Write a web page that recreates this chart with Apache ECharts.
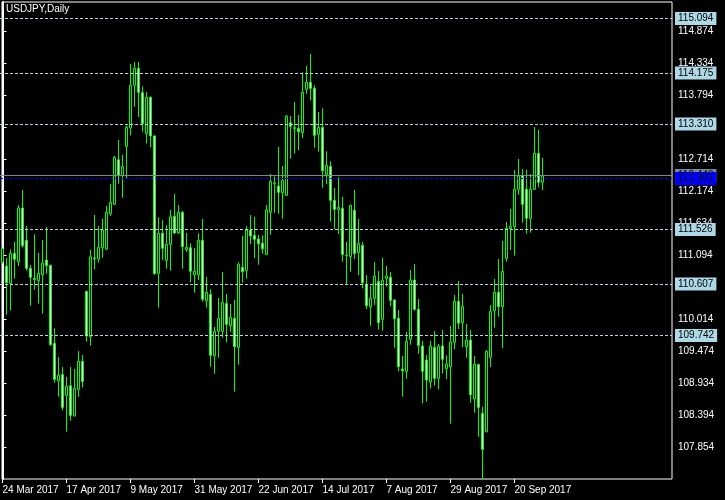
<!DOCTYPE html>
<html><head><meta charset="utf-8">
<script src="https://cdn.jsdelivr.net/npm/echarts@6/dist/echarts.min.js"></script>
<style>html,body{margin:0;padding:0;background:#000}#c{width:725px;height:500px}</style>
</head><body><div id="c"></div>
<script>
const dates = [
'24 Mar 2017','27 Mar 2017','28 Mar 2017','29 Mar 2017','30 Mar 2017','31 Mar 2017',
'3 Apr 2017','4 Apr 2017','5 Apr 2017','6 Apr 2017','7 Apr 2017','10 Apr 2017','11 Apr 2017','12 Apr 2017','13 Apr 2017','14 Apr 2017','17 Apr 2017','18 Apr 2017','19 Apr 2017','20 Apr 2017','21 Apr 2017','24 Apr 2017','25 Apr 2017','26 Apr 2017','27 Apr 2017','28 Apr 2017',
'1 May 2017','2 May 2017','3 May 2017','4 May 2017','5 May 2017','8 May 2017','9 May 2017','10 May 2017','11 May 2017','12 May 2017','15 May 2017','16 May 2017','17 May 2017','18 May 2017','19 May 2017','22 May 2017','23 May 2017','24 May 2017','25 May 2017','26 May 2017','29 May 2017','30 May 2017','31 May 2017',
'1 Jun 2017','2 Jun 2017','5 Jun 2017','6 Jun 2017','7 Jun 2017','8 Jun 2017','9 Jun 2017','12 Jun 2017','13 Jun 2017','14 Jun 2017','15 Jun 2017','16 Jun 2017','19 Jun 2017','20 Jun 2017','21 Jun 2017','22 Jun 2017','23 Jun 2017','26 Jun 2017','27 Jun 2017','28 Jun 2017','29 Jun 2017','30 Jun 2017',
'3 Jul 2017','4 Jul 2017','5 Jul 2017','6 Jul 2017','7 Jul 2017','10 Jul 2017','11 Jul 2017','12 Jul 2017','13 Jul 2017','14 Jul 2017','17 Jul 2017','18 Jul 2017','19 Jul 2017','20 Jul 2017','21 Jul 2017','24 Jul 2017','25 Jul 2017','26 Jul 2017','27 Jul 2017','28 Jul 2017','31 Jul 2017',
'1 Aug 2017','2 Aug 2017','3 Aug 2017','4 Aug 2017','7 Aug 2017','8 Aug 2017','9 Aug 2017','10 Aug 2017','11 Aug 2017','14 Aug 2017','15 Aug 2017','16 Aug 2017','17 Aug 2017','18 Aug 2017','21 Aug 2017','22 Aug 2017','23 Aug 2017','24 Aug 2017','25 Aug 2017','28 Aug 2017','29 Aug 2017','30 Aug 2017','31 Aug 2017',
'1 Sep 2017','4 Sep 2017','5 Sep 2017','6 Sep 2017','7 Sep 2017','8 Sep 2017','11 Sep 2017','12 Sep 2017','13 Sep 2017','14 Sep 2017','15 Sep 2017','18 Sep 2017','19 Sep 2017','20 Sep 2017','21 Sep 2017','22 Sep 2017','25 Sep 2017','26 Sep 2017','27 Sep 2017','28 Sep 2017','29 Sep 2017'
];
const opens = [
110.98,110.911,110.618,111.125,110.985,111.891,111.345,110.872,110.703,110.664,
110.765,111.013,110.923,109.606,108.975,109.082,108.728,108.891,108.384,108.829,
109.302,110.484,109.718,111.047,111.030,111.221,111.193,111.795,111.953,112.707,
112.442,112.932,113.241,113.962,114.249,113.838,113.151,113.759,113.106,110.788,
111.463,111.007,111.277,111.750,111.469,111.818,111.187,111.221,110.765,110.765,
111.345,110.326,110.433,109.398,109.809,109.809,110.281,109.904,110.028,109.538,
110.889,110.833,111.519,111.429,111.367,111.294,111.103,111.818,112.302,112.262,
112.150,112.105,113.331,113.230,113.236,113.163,113.894,114.013,113.911,113.135,
113.253,112.454,112.594,112.020,111.868,111.885,111.092,111.069,111.852,111.142,
111.261,110.602,110.225,110.366,110.653,110.011,110.703,110.720,110.338,110.028,
109.172,109.133,109.673,110.675,110.180,109.561,109.324,108.953,109.538,109.015,
109.561,109.178,109.212,109.623,110.315,109.955,109.550,109.662,108.672,109.251,
108.424,108.115,109.370,110.157,110.467,110.225,111.041,111.542,111.576,112.206,
112.443,112.206,111.717,112.206,112.814,112.325
];
const closes = [
111.20,110.630,111.125,111.024,111.891,111.255,110.872,110.720,110.686,110.788,
110.962,110.917,109.583,108.998,109.065,108.525,108.880,108.390,108.846,109.302,
108.964,109.730,111.069,111.035,111.227,111.519,111.818,111.986,112.746,112.442,
112.594,113.253,113.962,114.249,113.844,113.315,113.759,113.106,110.782,111.463,
111.210,111.277,111.744,111.469,111.818,111.238,111.227,110.822,110.822,111.345,
110.349,110.467,109.403,109.809,110.028,110.298,109.927,110.045,109.550,110.940,
110.816,111.519,111.418,111.362,111.289,111.204,111.857,112.341,112.313,112.155,
112.358,113.444,113.270,113.253,113.180,113.844,114.013,113.911,113.118,113.253,
112.521,112.611,112.020,111.868,111.902,111.108,111.086,111.936,111.120,111.294,
110.630,110.242,110.366,110.743,109.955,110.670,110.743,110.332,110.022,109.212,
109.144,109.640,110.675,110.180,109.572,109.133,108.987,109.561,109.015,109.561,
109.336,109.257,109.628,110.315,109.944,110.231,109.662,108.739,109.251,108.525,
107.816,109.471,110.146,110.467,110.225,110.822,111.548,111.581,112.206,112.443,
111.953,111.717,112.206,112.814,112.325,112.443
];
const lows = [
110.95,110.090,110.157,110.698,110.912,111.221,110.833,110.242,110.512,110.276,
110.107,110.782,109.566,108.942,108.705,108.475,108.114,108.300,108.368,108.705,
108.863,109.634,109.566,110.855,110.968,111.052,111.187,111.756,111.941,112.302,
112.065,112.386,113.118,113.602,113.427,113.180,112.983,112.915,110.765,110.208,
111.013,110.867,110.833,111.452,111.452,110.867,111.153,110.641,110.461,110.675,
110.309,110.208,109.212,109.094,109.364,109.701,109.623,109.803,108.790,109.246,
110.630,110.698,111.283,111.047,110.934,111.120,111.097,111.441,111.812,111.795,
111.711,112.099,112.724,112.808,112.870,113.073,113.816,113.709,112.909,112.842,
112.234,112.296,111.660,111.536,111.452,110.985,110.608,110.816,111.030,110.760,
110.535,110.186,109.904,110.253,109.837,109.820,110.563,110.231,109.533,109.133,
108.705,109.009,109.583,110.157,109.431,108.593,108.621,108.846,108.891,108.829,
109.099,109.004,108.249,109.510,109.848,109.544,109.364,108.604,108.436,108.030,
107.320,108.103,109.206,109.870,110.056,109.527,110.985,111.182,111.087,112.116,
111.644,111.458,111.475,112.195,112.240,112.195
];
const highs = [
111.22,111.046,111.193,111.317,111.941,112.195,111.587,110.928,111.446,111.131,
111.351,111.570,110.934,109.859,109.375,109.206,109.037,109.206,109.173,109.476,
109.409,110.490,111.182,111.773,111.587,111.711,111.925,112.296,112.769,113.039,
112.786,113.281,114.322,114.356,114.356,113.945,113.849,113.776,113.123,111.733,
111.683,111.598,111.857,112.127,111.941,111.840,111.469,111.294,111.215,111.463,
111.705,110.726,110.523,109.882,110.371,110.810,110.439,110.270,110.337,110.973,
111.418,111.587,111.773,111.739,111.435,111.429,111.941,112.465,112.425,112.921,
112.600,113.461,113.444,113.680,113.461,114.181,114.288,114.491,113.962,113.512,
113.573,112.848,112.679,112.228,112.408,112.077,111.317,111.947,112.195,111.705,
111.317,110.760,110.580,110.979,110.827,111.047,110.912,110.810,110.349,110.169,
109.392,109.797,110.844,110.945,110.354,109.645,109.409,109.645,109.814,109.595,
109.831,109.403,109.898,110.422,110.658,110.439,109.932,109.831,109.392,109.260,
108.537,109.493,110.253,110.692,111.030,111.334,111.655,111.874,112.533,112.719,
112.550,112.533,112.465,113.259,113.208,112.736
];
const priceTicks = [107.854,108.394,108.934,109.474,110.014,110.554,111.094,111.634,112.174,112.714,113.254,113.794,114.334,114.874];
const dateTickIndex = [0,16,32,48,64,80,96,112,128];
const levelLines = [115.094,114.175,113.310,111.526,110.607,109.742];
const bidPrice = 112.443;
const bluePrice = 112.391;
const chartTitle = 'USDJPY,Daily';

const FONT = "'Liberation Sans',Arial,sans-serif";
const FS = 10;
const candleData = opens.map((o, i) => [i, o, closes[i], lows[i], highs[i]]);

function lineLabel(bg, fg) {
  return {
    show: true, position: 'end', distance: 3,
    formatter: '{b}',
    color: fg, backgroundColor: bg, padding: [2, 3, 1, 3],
    fontSize: FS, fontFamily: FONT, lineHeight: 10
  };
}
const markData = [
  { name: bidPrice.toFixed(3), yAxis: bidPrice, lineStyle: { color: '#778899', type: 'solid', width: 1 }, label: lineLabel('#778899', '#000') }
].concat(levelLines.map(v => ({
  name: v.toFixed(3), yAxis: v, lineStyle: { color: '#add8e6', type: [3, 2], width: 1 }, label: lineLabel('#add8e6', '#000')
}))).concat([
  { name: bluePrice.toFixed(3), yAxis: bluePrice, lineStyle: { color: '#0000ff', type: [3, 2], width: 1 }, label: lineLabel('#0000ff', '#000') }
]);

const chart = echarts.init(document.getElementById('c'), null, { renderer: 'canvas' });
chart.setOption({
  backgroundColor: '#000',
  animation: false,
  title: {
    text: chartTitle, left: 6, top: 4, padding: 0,
    textStyle: { color: '#fff', fontSize: FS, fontWeight: 'normal', fontFamily: FONT }
  },
  grid: [
    { left: 0, right: 53, top: 2, bottom: 21, show: false, containLabel: false, outerBoundsMode: 'none' },
    { left: 2, right: 53, top: 2, bottom: 21, show: true, borderColor: '#fff', borderWidth: 1, backgroundColor: 'transparent', containLabel: false, outerBoundsMode: 'none' }
  ],
  xAxis: [{
    type: 'value', gridIndex: 0, min: -0.625, max: 167.375,
    axisLine: { show: false },
    axisTick: { show: true, length: 4, lineStyle: { color: '#fff' }, customValues: dateTickIndex },
    axisLabel: { color: '#fff', fontSize: FS, fontFamily: FONT, align: 'left', margin: 6,
      customValues: dateTickIndex, formatter: v => dates[Math.round(v)] || '', hideOverlap: false },
    splitLine: { show: false }
  }, {
    type: 'value', gridIndex: 1, show: false, min: 0, max: 1
  }],
  yAxis: [{
    type: 'value', position: 'right', min: 107.316, max: 115.369, gridIndex: 0,
    axisLine: { show: true, lineStyle: { color: '#fff', width: 2 } },
    axisTick: { show: true, length: 4, lineStyle: { color: '#fff' }, customValues: priceTicks },
    axisLabel: { color: '#fff', fontSize: FS, fontFamily: FONT, margin: 6, customValues: priceTicks,
      formatter: v => Number(v).toFixed(3) },
    splitLine: { show: false }
  }, {
    type: 'value', gridIndex: 1, show: false, min: 0, max: 1
  }],
  series: [{
    type: 'candlestick', data: candleData, barWidth: 2, xAxisIndex: 0, yAxisIndex: 0,
    encode: { x: 0, y: [1, 2, 3, 4] },
    itemStyle: { color: '#000', color0: '#fff', borderColor: '#00ff00', borderColor0: '#00ff00', borderColorDoji: '#00ff00', borderWidth: 1 },
    markLine: { silent: true, symbol: ['none', 'none'], animation: false, z: 5, data: markData }
  }]
});
</script></body></html>
